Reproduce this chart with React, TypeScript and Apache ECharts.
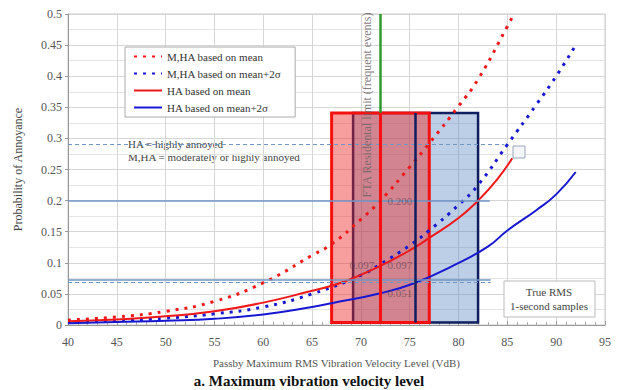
import React, { useEffect, useRef } from "react";
import * as echarts from "echarts";

// Curves (x = VdB, y = probability)
const mhaMeanX = [40, 45, 50, 55, 60, 65, 67, 70, 72, 75, 77, 80, 82, 85, 85.5];
const mhaMeanY = [0.008, 0.013, 0.022, 0.038, 0.068, 0.112, 0.13, 0.17, 0.2, 0.254, 0.292, 0.352, 0.395, 0.48, 0.495];
const mha2sX = [40, 45, 50, 55, 60, 65, 70, 72, 75, 77, 80, 82, 85, 88, 90, 92];
const mha2sY = [0.004, 0.007, 0.011, 0.018, 0.029, 0.05, 0.08, 0.098, 0.128, 0.152, 0.193, 0.225, 0.29, 0.355, 0.4, 0.45];
const haMeanX = [40, 45, 50, 55, 60, 65, 67, 69, 72, 75, 77, 80, 82, 84, 85.5];
const haMeanY = [0.006, 0.009, 0.014, 0.022, 0.036, 0.055, 0.063, 0.074, 0.095, 0.12, 0.14, 0.172, 0.2, 0.235, 0.268];
const ha2sX = [40, 45, 50, 55, 60, 65, 67, 72, 75.6, 79.4, 83, 85, 88, 90, 92];
const ha2sY = [0.003, 0.005, 0.007, 0.01, 0.017, 0.029, 0.035, 0.051, 0.068, 0.095, 0.126, 0.152, 0.185, 0.21, 0.246];

const seriesNames = [
  "M,HA based on mean",
  "M,HA based on mean+2σ",
  "HA based on mean",
  "HA based on mean+2σ",
];

// Boxes [x0, x1, center]
const redBox = [67, 77, 72];
const blueBox = [69.2, 82, 75.6];
const boxBottom = 0.004;
const boxTop = 0.341;
const ftaLimit = 72;

// Horizontal reference lines [y, xEnd]
const solidRefs = [[0.2, 83.2], [0.072, 83.3]];
const dashedRefs = [[0.29, 84.7], [0.068, 83.3]];

// Value labels [x, y, text]
const valueLabels: [number, number, string][] = [
  [74, 0.2, "0.200"],
  [70.1, 0.097, "0.097"],
  [74, 0.097, "0.097"],
  [74, 0.051, "0.051"],
];

const zip = (xs: number[], ys: number[]) => xs.map((x, i) => [x, ys[i]]);
const FONT = "'Liberation Serif', 'Times New Roman', serif";

export default function App() {
  const ref = useRef<HTMLDivElement>(null);
  useEffect(() => {
    if (!ref.current) return;
    const chart = echarts.init(ref.current, null, { renderer: "svg" });
    const RED = "#F01818";
    const BLUE = "#1818D0";
    const NAVY = "#0E1E5E";
    const REF = "#7096C4";
    chart.setOption({
      animation: false,
      backgroundColor: "#fff",
      textStyle: { fontFamily: FONT },
      title: {
        text: "a. Maximum vibration velocity level",
        left: "center",
        top: 368,
        textStyle: { fontFamily: FONT, fontSize: 15, fontWeight: "bold", color: "#111" },
      },
      legend: {
        data: seriesNames,
        orient: "vertical",
        left: 125,
        top: 47,
        itemWidth: 28,
        itemHeight: 12,
        itemGap: 6,
        padding: [4, 14, 4, 8],
        backgroundColor: "#fff",
        borderColor: "#aaa",
        borderWidth: 1,
        borderRadius: 0,
        itemStyle: { opacity: 0 },
        textStyle: { fontFamily: FONT, fontSize: 11, color: "#333" },
      },
      grid: { left: 68, right: 13, top: 14, bottom: 65, show: true, borderColor: "#c8c8c8", borderWidth: 1 },
      xAxis: {
        type: "value",
        min: 40,
        max: 95,
        interval: 5,
        name: "Passby Maximum RMS Vibration Velocity Level (VdB)",
        nameLocation: "middle",
        nameGap: 32,
        nameTextStyle: { fontFamily: FONT, fontSize: 11, color: "#555" },
        axisLine: { show: true, lineStyle: { color: "#999" } },
        axisTick: { show: true, inside: true, length: 4, lineStyle: { color: "#999" } },
        minorTick: { show: true, splitNumber: 5, length: 3, lineStyle: { color: "#aaa" } },
        axisLabel: { fontFamily: FONT, fontSize: 12, color: "#555", margin: 11 },
        splitLine: { show: true, lineStyle: { color: "#d6d6d6" } },
      },
      yAxis: {
        type: "value",
        min: 0,
        max: 0.5,
        interval: 0.05,
        name: "Probability of Annoyance",
        nameLocation: "middle",
        nameGap: 44,
        nameTextStyle: { fontFamily: FONT, fontSize: 12, color: "#444" },
        axisLine: { show: true, lineStyle: { color: "#999" } },
        axisTick: { show: true, length: 3, lineStyle: { color: "#999" } },
        minorTick: { show: false, splitNumber: 2 },
        minorSplitLine: { show: true, lineStyle: { color: "#e4e4e4" } },
        axisLabel: { fontFamily: FONT, fontSize: 12, color: "#555", margin: 6 },
        splitLine: { show: true, lineStyle: { color: "#d6d6d6" } },
      },
      series: [
        {
          name: "refs",
          type: "line",
          data: [],
          z: 2,
          markLine: {
            silent: true,
            symbol: "none",
            label: { show: false },
            data: [
              ...solidRefs.map(([y, xe]) => [
                { coord: [40, y], lineStyle: { color: REF, width: 1.5, type: "solid" } },
                { coord: [xe, y] },
              ]),
              ...dashedRefs.map(([y, xe]) => [
                { coord: [40, y], lineStyle: { color: REF, width: 1.2, type: [4, 3] } },
                { coord: [xe, y] },
              ]),
              [
                { coord: [ftaLimit, boxTop], lineStyle: { color: "#2E9A2E", width: 2.5, type: "solid" } },
                { coord: [ftaLimit, 0.5] },
              ],
            ],
          },
        },
        {
          name: seriesNames[0],
          type: "line",
          data: zip(mhaMeanX, mhaMeanY),
          smooth: true,
          symbol: "none",
          z: 3,
          color: RED,
          lineStyle: { color: RED, width: 3, type: [3, 6] },
        },
        {
          name: seriesNames[1],
          type: "line",
          data: zip(mha2sX, mha2sY),
          smooth: true,
          symbol: "none",
          z: 3,
          color: BLUE,
          lineStyle: { color: BLUE, width: 3, type: [3, 6] },
        },
        {
          name: seriesNames[2],
          type: "line",
          data: zip(haMeanX, haMeanY),
          smooth: true,
          symbol: "none",
          z: 3,
          color: RED,
          lineStyle: { color: RED, width: 2 },
        },
        {
          name: seriesNames[3],
          type: "line",
          data: zip(ha2sX, ha2sY),
          smooth: true,
          symbol: "none",
          z: 3,
          color: BLUE,
          lineStyle: { color: BLUE, width: 2 },
        },
        {
          name: "blueBox",
          type: "line",
          data: [],
          z: 4,
          markArea: {
            silent: true,
            itemStyle: { color: "rgba(80,128,190,0.38)", borderColor: NAVY, borderWidth: 2.5 },
            data: [[{ coord: [blueBox[0], boxBottom] }, { coord: [blueBox[1], boxTop] }]],
          },
        },
        {
          name: "redBox",
          type: "line",
          data: [],
          z: 5,
          markArea: {
            silent: true,
            itemStyle: { color: "rgba(238,40,40,0.45)", borderColor: "#F41010", borderWidth: 3 },
            data: [[{ coord: [redBox[0], boxBottom] }, { coord: [redBox[1], boxTop] }]],
          },
          markLine: {
            silent: true,
            symbol: "none",
            label: { show: false },
            data: [
              [
                { coord: [redBox[2], boxBottom], lineStyle: { color: "#F41010", width: 3, type: "solid" } },
                { coord: [redBox[2], boxTop] },
              ],
              [
                { coord: [blueBox[2], boxBottom], lineStyle: { color: NAVY, width: 2.5, type: "solid" } },
                { coord: [blueBox[2], boxTop] },
              ],
            ],
          },
        },
        {
          name: "values",
          type: "scatter",
          symbolSize: 0,
          z: 6,
          data: valueLabels.map(([x, y, t]) => ({ value: [x, y], name: t })),
          label: {
            show: true,
            position: "inside",
            formatter: "{b}",
            fontFamily: FONT,
            fontSize: 11,
            color: "rgba(80,60,70,0.75)",
          },
        },
      ],
      graphic: [
        {
          type: "text",
          x: 128,
          y: 144,
          style: { text: "HA = highly annoyed", fontFamily: FONT, fontSize: 11, fill: "#444", verticalAlign: "middle" },
        },
        {
          type: "text",
          x: 128,
          y: 157,
          style: {
            text: "M,HA = moderately or highly annoyed",
            fontFamily: FONT,
            fontSize: 11,
            fill: "#444",
            verticalAlign: "middle",
          },
        },
        {
          type: "text",
          x: 367,
          y: 105,
          rotation: Math.PI / 2,
          z: 10,
          style: {
            text: "FTA Residental limit (frequent events)",
            fontFamily: FONT,
            fontSize: 12,
            fill: "rgba(110,100,100,0.85)",
            align: "center",
            verticalAlign: "middle",
          },
        },
        {
          type: "rect",
          shape: { x: 504, y: 281, width: 91, height: 36 },
          style: { fill: "#fff", stroke: "#bbb", lineWidth: 1 },
          z: 10,
        },
        {
          type: "text",
          x: 549,
          y: 292,
          z: 11,
          style: { text: "True RMS", fontFamily: FONT, fontSize: 11, fill: "#444", align: "center", verticalAlign: "middle" },
        },
        {
          type: "text",
          x: 549,
          y: 306,
          z: 11,
          style: {
            text: "1-second samples",
            fontFamily: FONT,
            fontSize: 11,
            fill: "#444",
            align: "center",
            verticalAlign: "middle",
          },
        },
        {
          type: "rect",
          shape: { x: 513, y: 146, width: 12, height: 12 },
          style: { fill: "#f4f6fa", stroke: "#9aa6b8", lineWidth: 1 },
          z: 10,
        },
      ],
    });
    return () => chart.dispose();
  }, []);
  return <div ref={ref} style={{ width: 618, height: 390, position: "fixed", left: 0, top: 0 }} />;
}
